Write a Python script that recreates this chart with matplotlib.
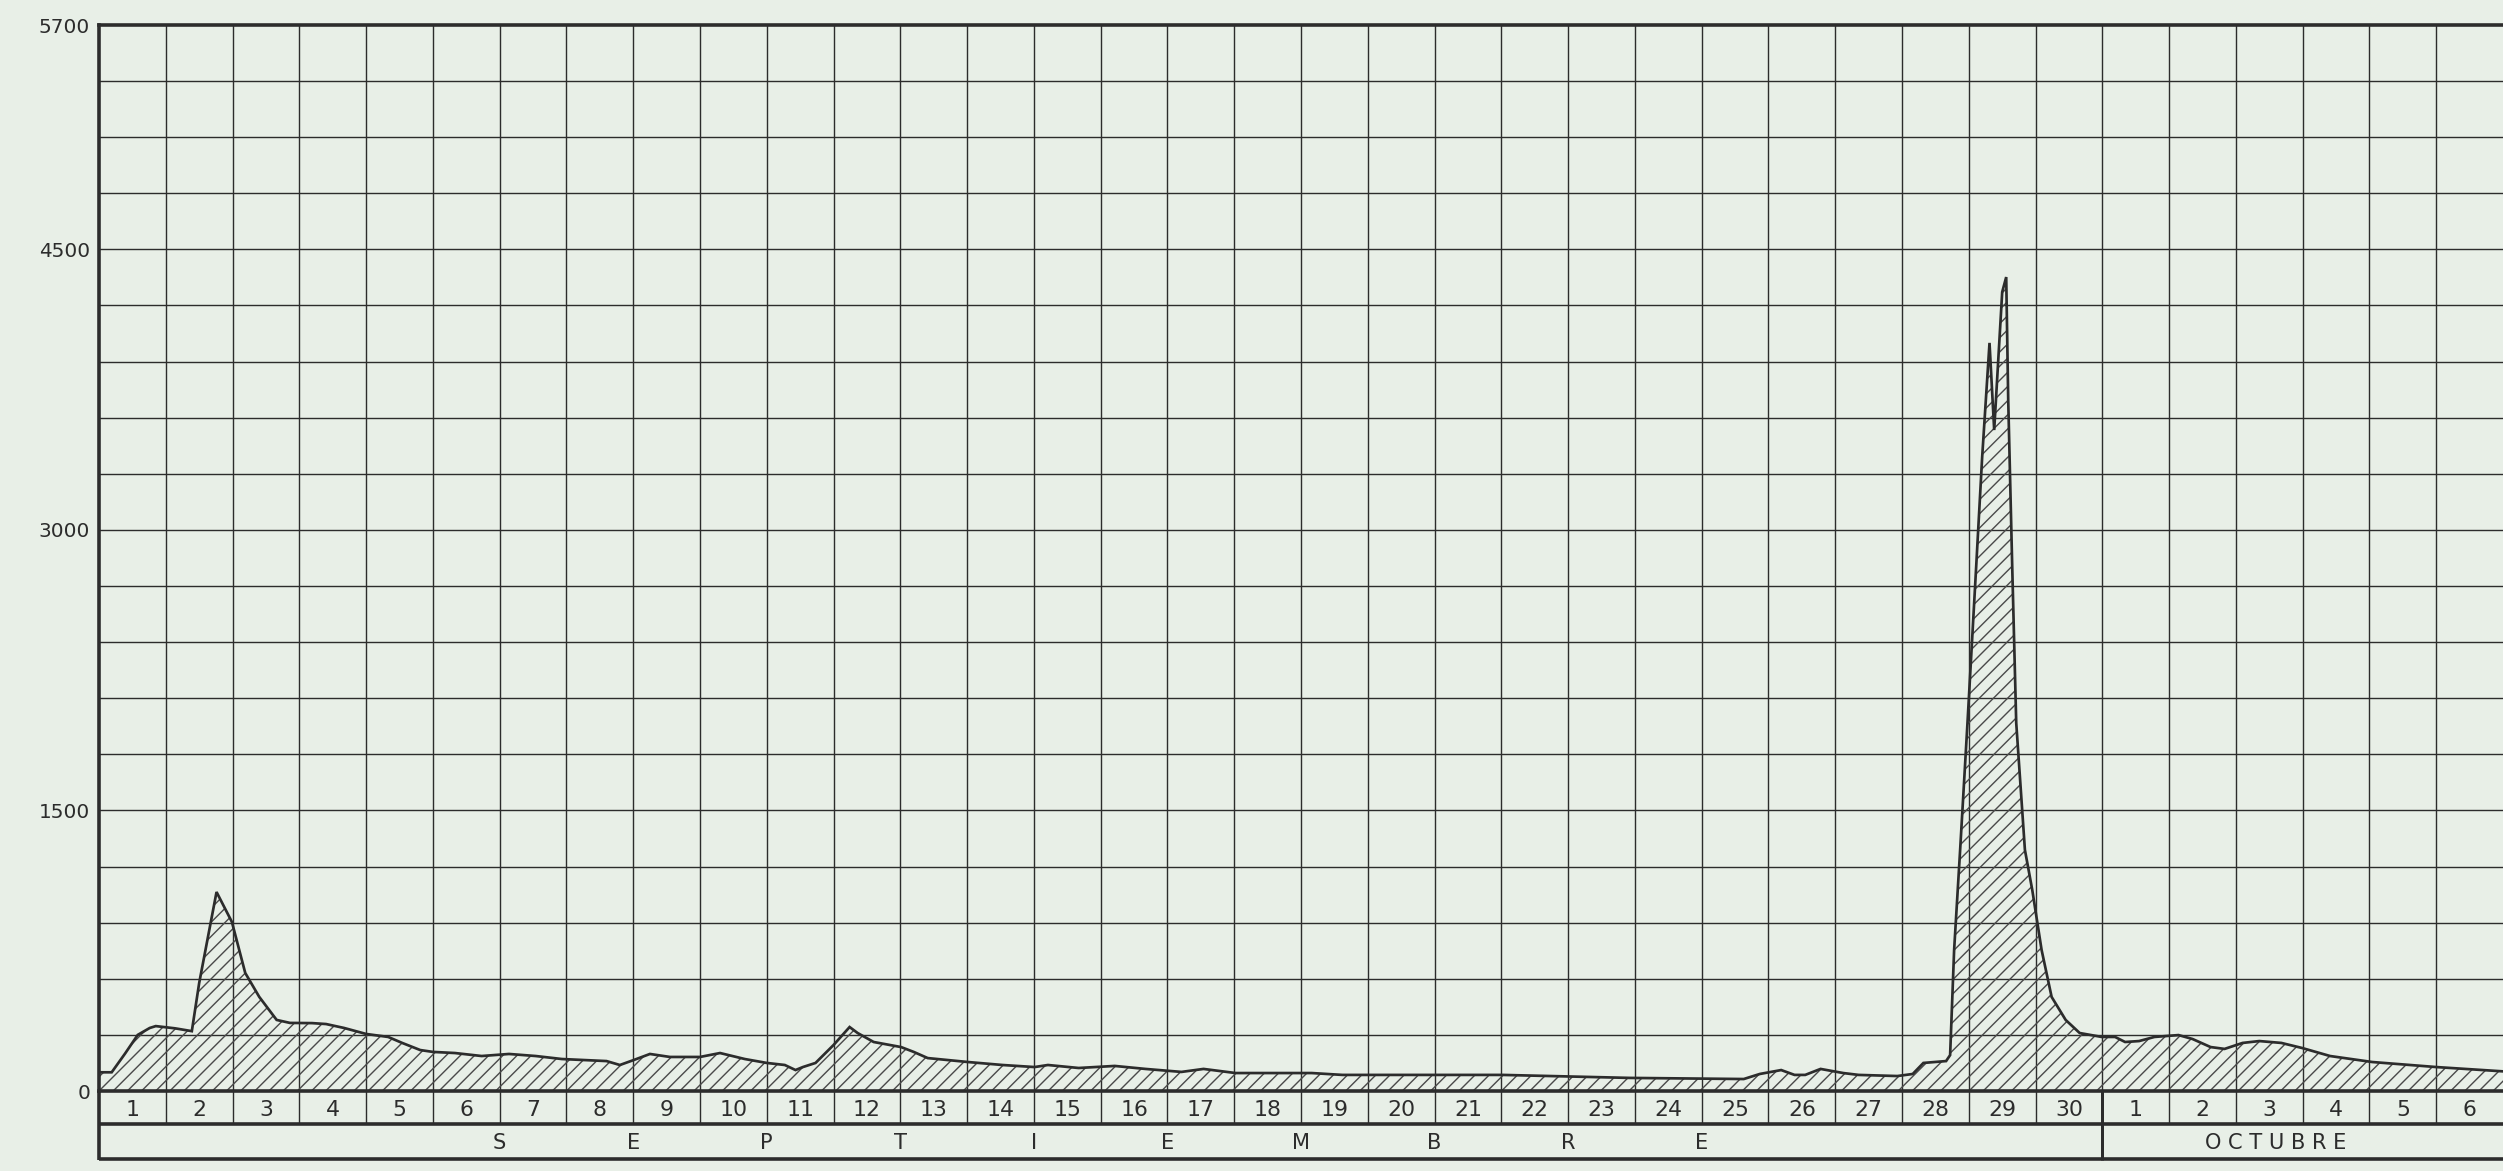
import matplotlib
matplotlib.use('Agg')
import matplotlib.pyplot as plt

# ---------------- data ----------------
# time in days since 1 September 00h, discharge value
t_days = [0.00, 0.19, 0.39, 0.58, 0.76, 0.85, 1.14, 1.39, 1.50, 1.76, 1.99, 2.19,
          2.40, 2.66, 2.86, 3.19, 3.40, 3.67, 4.00, 4.33, 4.54, 4.81, 5.00, 5.33,
          5.73, 6.14, 6.54, 6.93, 7.60, 7.80, 8.01, 8.25, 8.55, 9.00, 9.30, 9.67,
          10.00, 10.27, 10.43, 10.54, 10.73, 11.00, 11.24, 11.36, 11.60, 12.01, 12.20,
          12.41, 13.01, 13.53, 14.01, 14.21, 14.67, 15.21, 15.67, 16.21, 16.54, 17.02,
          18.16, 18.62, 21.02, 22.92, 24.63, 24.87, 25.19, 25.39, 25.55, 25.78, 26.12,
          26.35, 26.93, 27.16, 27.32, 27.66, 27.72, 27.78, 27.87, 27.98, 28.11, 28.20,
          28.31, 28.38, 28.50, 28.56, 28.59, 28.65, 28.71, 28.84, 28.95, 29.09, 29.24,
          29.45, 29.66, 29.99, 30.19, 30.34, 30.55, 30.78, 31.14, 31.35, 31.62, 31.83,
          32.10, 32.35, 32.68, 32.99, 33.41, 34.04, 35.00, 36.00]
q_values = [100, 100, 200, 300, 337, 347, 335, 320, 577, 1064, 904, 631,
            503, 380, 364, 363, 358, 337, 305, 289, 257, 219, 209, 203,
            187, 198, 187, 171, 160, 139, 166, 198, 182, 182, 203, 171,
            150, 139, 112, 128, 150, 246, 342, 310, 262, 235, 209,
            176, 155, 139, 128, 139, 123, 134, 118, 102, 118, 96,
            96, 86, 86, 70, 64, 91, 112, 86, 86, 118, 96,
            86, 80, 91, 150, 160, 192, 754, 1289, 1968, 2802, 3390,
            4000, 3534, 4272, 4352, 3695, 2802, 1968, 1289, 1075, 754, 503,
            380, 310, 289, 289, 262, 267, 289, 299, 278, 235, 225,
            257, 267, 257, 230, 187, 155, 128, 105]

y_ticks = [0, 1500, 3000, 4500, 5700]
y_tick_labels = ['0', '1500', '3000', '4500', '5700']
day_labels = [str(d) for d in range(1, 31)] + [str(d) for d in range(1, 7)]
sept_letters = ['S', 'E', 'P', 'T', 'I', 'E', 'M', 'B', 'R', 'E']
sept_letter_pos = [6, 8, 10, 12, 14, 16, 18, 20, 22, 24]
oct_label = 'O C T U B R E'

# ---------------- style ----------------
DPI = 85
def px(v):
    """pixel size -> points at the working dpi"""
    return v * 72.0 / DPI

BG = '#e8efe7'
INK = '#2c2c2c'
HATCH = '#4a4a4a'
plt.rcParams['font.family'] = ['DejaVu Sans']
plt.rcParams['hatch.linewidth'] = px(1.4)

W, H = 2503, 1171
x0, y_top, y_zero, y_row, y_bot = 99, 25, 1091, 1124, 1160
n_days = 36

fig = plt.figure(figsize=((W + 0.05) / DPI, (H + 0.05) / DPI), dpi=DPI, facecolor=BG)

ax = fig.add_axes([x0 / W, 1 - y_zero / H, 1 - x0 / W, (y_zero - y_top) / H])
ax.set_facecolor(BG)
ax.set_xlim(0, n_days)
ax.set_ylim(0, 5700)

for v in range(300, 5700, 300):
    ax.axhline(v, color=INK, lw=px(1.4), zorder=1)
for d in range(1, n_days):
    ax.axvline(d, color=INK, lw=px(1.4), zorder=1)

ax.fill_between(t_days, q_values, 0, facecolor='none', edgecolor=HATCH,
                linewidth=0, hatch='//', zorder=2)
ax.plot(t_days, q_values, color=INK, lw=px(2.7), zorder=3, solid_joinstyle='miter')

for side in ['top', 'left', 'bottom']:
    ax.spines[side].set_linewidth(px(3.6))
    ax.spines[side].set_color(INK)
ax.spines['right'].set_visible(False)
ax.set_xticks([])
ax.set_yticks(y_ticks)
ax.set_yticklabels(y_tick_labels, fontsize=px(20), color=INK)
ax.tick_params(axis='y', length=0, pad=px(9))

# ---------------- day / month table ----------------
tax = fig.add_axes([x0 / W, 1 - y_bot / H, 1 - x0 / W, (y_bot - y_zero) / H])
tax.set_xlim(0, n_days)
tax.set_ylim(y_bot - y_zero, 0)
tax.axis('off')
r1 = y_row - y_zero
r2 = y_bot - y_zero
tax.hlines([r1, r2 - 1], 0, n_days, color=INK, lw=px(3.6), clip_on=False)
tax.vlines(range(1, n_days), 0, r1, color=INK, lw=px(1.4), clip_on=False)
tax.vlines([0], 0, r2, color=INK, lw=px(3.6), clip_on=False)
tax.vlines([30], 0, r2, color=INK, lw=px(3.0), clip_on=False)

for i, lab in enumerate(day_labels):
    tax.text(i + 0.5, r1 / 2 + 2, lab, ha='center', va='center', fontsize=px(22),
             color=INK, clip_on=False)
for pos, letter in zip(sept_letter_pos, sept_letters):
    tax.text(pos, (r1 + r2) / 2 + 1, letter, ha='center', va='center', fontsize=px(21),
             color=INK)
tax.text(32.6, (r1 + r2) / 2 + 1, oct_label, ha='center', va='center', fontsize=px(21),
         color=INK)

fig.savefig('out.png', dpi=DPI, facecolor=BG)
